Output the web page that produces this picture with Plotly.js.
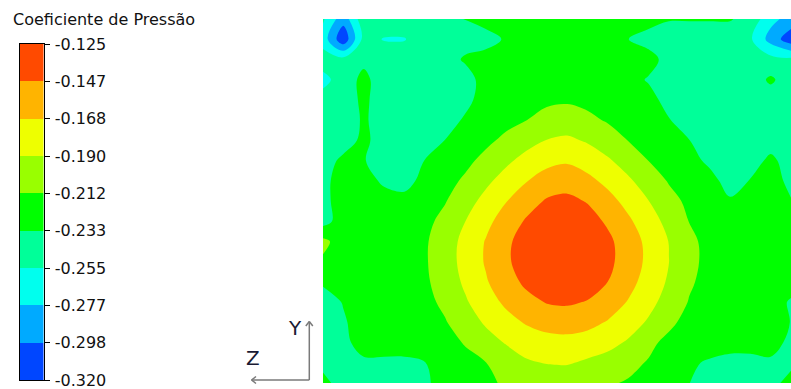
<!DOCTYPE html>
<html>
<head>
<meta charset="utf-8">
<script src="https://cdn.plot.ly/plotly-3.0.1.min.js"></script>
<style>
html,body{margin:0;padding:0;background:#ffffff;}
#chart{width:791px;height:389px;}
</style>
</head>
<body>
<div id="chart"></div>
<script>
// Grid coordinates (columns along Z, rows along Y, top row first)
var zCoords = [0,1,2,3,4,5,6,7,8,9,10,11,12,13,14,15,16,17,18,19,20,21,22,23];
var yCoords = [0,1,2,3,4,5,6,7,8,9,10,11,12,13,14,15,16,17,18];

// Pressure coefficient (rows top -> bottom)
var cpRow00 = [-0.252,-0.290,-0.240,-0.2442,-0.2442,-0.2442,-0.2442,-0.232,-0.2225,-0.2225,-0.2225,-0.2225,-0.2225,-0.2225,-0.2225,-0.2225,-0.2225,-0.232,-0.232,-0.232,-0.232,-0.240,-0.270,-0.285];
var cpRow01 = [-0.265,-0.315,-0.248,-0.256,-0.256,-0.2442,-0.2442,-0.2442,-0.2442,-0.230,-0.2225,-0.2225,-0.2225,-0.2225,-0.2225,-0.233,-0.2442,-0.2442,-0.2442,-0.2442,-0.2442,-0.252,-0.285,-0.312];
var cpRow02 = [-0.2442,-0.248,-0.238,-0.2442,-0.2442,-0.2442,-0.2442,-0.230,-0.2225,-0.2225,-0.2225,-0.2225,-0.2225,-0.2225,-0.2225,-0.2225,-0.2225,-0.2442,-0.2442,-0.2442,-0.2442,-0.2442,-0.248,-0.250];
var cpRow03 = [-0.262,-0.2442,-0.228,-0.2442,-0.2442,-0.2442,-0.2442,-0.2442,-0.2225,-0.2225,-0.2225,-0.2225,-0.2218,-0.2225,-0.2225,-0.2225,-0.236,-0.2442,-0.2442,-0.2442,-0.2442,-0.2442,-0.230,-0.2442];
var cpRow04 = [-0.246,-0.2442,-0.229,-0.2442,-0.2442,-0.2442,-0.2442,-0.240,-0.2225,-0.2225,-0.2190,-0.2156,-0.2143,-0.2168,-0.2207,-0.2225,-0.2225,-0.2442,-0.2442,-0.2442,-0.2442,-0.2442,-0.2442,-0.2442];
var cpRow05 = [-0.250,-0.248,-0.230,-0.2442,-0.2442,-0.2442,-0.2442,-0.230,-0.2220,-0.2166,-0.2119,-0.2045,-0.2017,-0.2072,-0.2137,-0.2187,-0.2225,-0.232,-0.2442,-0.2442,-0.2442,-0.2442,-0.2442,-0.2442];
var cpRow06 = [-0.2442,-0.2442,-0.228,-0.2442,-0.2442,-0.2442,-0.233,-0.2217,-0.2155,-0.2078,-0.1975,-0.1894,-0.1863,-0.1923,-0.2015,-0.2121,-0.2180,-0.2225,-0.233,-0.2442,-0.2442,-0.2442,-0.2442,-0.236];
var cpRow07 = [-0.2442,-0.228,-0.232,-0.2442,-0.2442,-0.233,-0.2225,-0.2159,-0.2068,-0.1942,-0.1831,-0.1742,-0.1709,-0.1774,-0.1874,-0.1992,-0.2120,-0.2186,-0.2225,-0.240,-0.2442,-0.2442,-0.228,-0.2442];
var cpRow08 = [-0.240,-0.2225,-0.2225,-0.238,-0.246,-0.2225,-0.2175,-0.2089,-0.1947,-0.1813,-0.1692,-0.1593,-0.1555,-0.1629,-0.1739,-0.1867,-0.2004,-0.2133,-0.2205,-0.2225,-0.246,-0.232,-0.2225,-0.240];
var cpRow09 = [-0.240,-0.2225,-0.2225,-0.2225,-0.2225,-0.2205,-0.2129,-0.1986,-0.1836,-0.1692,-0.1559,-0.1445,-0.1416,-0.1480,-0.1611,-0.1751,-0.1897,-0.2050,-0.2160,-0.2225,-0.230,-0.2225,-0.2225,-0.232];
var cpRow10 = [-0.242,-0.2225,-0.2225,-0.2225,-0.2225,-0.2168,-0.2060,-0.1900,-0.1741,-0.1586,-0.1443,-0.1356,-0.1329,-0.1385,-0.1497,-0.1648,-0.1805,-0.1965,-0.2122,-0.2201,-0.2225,-0.2225,-0.2225,-0.2225];
var cpRow11 = [-0.206,-0.2225,-0.2225,-0.2225,-0.2224,-0.2143,-0.2003,-0.1837,-0.1671,-0.1507,-0.1377,-0.1305,-0.1286,-0.1328,-0.1422,-0.1573,-0.1739,-0.1905,-0.2071,-0.2176,-0.2225,-0.2225,-0.2225,-0.2225];
var cpRow12 = [-0.215,-0.2225,-0.2225,-0.2225,-0.2221,-0.2140,-0.1996,-0.1830,-0.1664,-0.1499,-0.1373,-0.1305,-0.1289,-0.1326,-0.1417,-0.1566,-0.1731,-0.1898,-0.2064,-0.2173,-0.2225,-0.2225,-0.2225,-0.2225];
var cpRow13 = [-0.230,-0.2225,-0.2225,-0.2225,-0.2225,-0.2151,-0.2023,-0.1863,-0.1704,-0.1553,-0.1424,-0.1356,-0.1340,-0.1377,-0.1468,-0.1614,-0.1769,-0.1928,-0.2090,-0.2184,-0.2225,-0.2225,-0.2225,-0.2225];
var cpRow14 = [-0.2442,-0.232,-0.2225,-0.2225,-0.2225,-0.2172,-0.2074,-0.1923,-0.1777,-0.1643,-0.1529,-0.1455,-0.1439,-0.1477,-0.1572,-0.1696,-0.1835,-0.1984,-0.2128,-0.2204,-0.2225,-0.2225,-0.2225,-0.236];
var cpRow15 = [-0.2442,-0.236,-0.2225,-0.2225,-0.2225,-0.2203,-0.2131,-0.2004,-0.1873,-0.1756,-0.1663,-0.1604,-0.1589,-0.1623,-0.1698,-0.1802,-0.1925,-0.2061,-0.2200,-0.2225,-0.2225,-0.2225,-0.2225,-0.234];
var cpRow16 = [-0.2442,-0.240,-0.2225,-0.2225,-0.2225,-0.2225,-0.2174,-0.2104,-0.1986,-0.1885,-0.1807,-0.1760,-0.1748,-0.1774,-0.1835,-0.1924,-0.2060,-0.2180,-0.2225,-0.2225,-0.2225,-0.2225,-0.2225,-0.240];
var cpRow17 = [-0.240,-0.238,-0.238,-0.238,-0.238,-0.234,-0.2223,-0.2165,-0.2120,-0.2022,-0.1925,-0.1890,-0.1880,-0.1935,-0.1980,-0.2055,-0.2134,-0.2188,-0.230,-0.236,-0.242,-0.242,-0.238,-0.238];
var cpRow18 = [-0.226,-0.2442,-0.2442,-0.2442,-0.2442,-0.238,-0.2225,-0.2220,-0.2140,-0.2100,-0.2085,-0.2065,-0.2064,-0.2075,-0.2095,-0.2135,-0.2192,-0.2225,-0.233,-0.2442,-0.2442,-0.2442,-0.240,-0.226];

// Contour levels and colorbar labels (bottom -> top)
var levels = [-0.3200,-0.2983,-0.2767,-0.2550,-0.2333,-0.2117,-0.1900,-0.1683,-0.1467,-0.1250];
var tickLabels = ['-0.320','-0.298','-0.277','-0.255','-0.233','-0.212','-0.190','-0.168','-0.147','-0.125'];
var bandColors = ['#0046FF','#00AAFF','#00FFEE','#00FF99','#00FF00','#99FF00','#EEFF00','#FFB400','#FF4A00'];
var titleText = 'Coeficiente de Pressão';

var cp = [cpRow00,cpRow01,cpRow02,cpRow03,cpRow04,cpRow05,cpRow06,cpRow07,cpRow08,cpRow09,
          cpRow10,cpRow11,cpRow12,cpRow13,cpRow14,cpRow15,cpRow16,cpRow17,cpRow18];

var W = 791, H = 389;
function fx(p){ return p / W; }
function fy(p){ return 1 - p / H; }

// step colourscale for contour fills (fill colour sampled at (i+1)/10 for band i)
var nb = bandColors.length;
var contourScale = [];
for (var i = 0; i < nb; i++) {
  var lo = (i === 0) ? 0 : (i + 0.5) / (nb + 1);
  var hi = (i === nb - 1) ? 1 : (i + 1.5) / (nb + 1);
  contourScale.push([lo, bandColors[i]]);
  contourScale.push([hi, bandColors[i]]);
}
// step colourscale for the legend bar
var barScale = [];
var barZ = [];
for (var j = 0; j < nb; j++) {
  barScale.push([j / nb, bandColors[j]]);
  barScale.push([(j + 1) / nb, bandColors[j]]);
  barZ.push([j]);
}

var step = (levels[levels.length - 1] - levels[0]) / (levels.length - 1);

var traces = [
  {
    type: 'contour',
    x: zCoords, y: yCoords, z: cp,
    autocontour: false,
    contours: { start: levels[0], end: levels[levels.length - 1] + step / 40, size: step, coloring: 'fill', showlines: false },
    line: { width: 0, smoothing: 1 },
    colorscale: contourScale,
    showscale: false,
    hoverinfo: 'skip',
    xaxis: 'x', yaxis: 'y'
  },
  {
    type: 'heatmap',
    x: [0, 1], y: levels, z: barZ,
    zmin: -0.5, zmax: nb - 0.5,
    colorscale: barScale,
    showscale: false,
    hoverinfo: 'skip',
    xaxis: 'x2', yaxis: 'y2'
  }
];

var arrowColor = '#7a7a7a';
function seg(x0, y0, x1, y1) {
  return { type: 'line', xref: 'paper', yref: 'paper', x0: fx(x0), y0: fy(y0), x1: fx(x1), y1: fy(y1),
           line: { color: arrowColor, width: 1.5 } };
}

var layout = {
  width: W, height: H,
  margin: { l: 0, r: 0, t: 0, b: 0, pad: 0 },
  paper_bgcolor: '#ffffff', plot_bgcolor: '#ffffff',
  showlegend: false,
  font: { family: 'DejaVu Sans', color: '#111111' },
  xaxis: { domain: [fx(323), 1], range: [0, 23], visible: false, fixedrange: true },
  yaxis: { domain: [fy(383), fy(19)], range: [18, 0], visible: false, fixedrange: true },
  xaxis2: { domain: [fx(20), fx(43.5)], range: [0, 1], anchor: 'y2', showline: true, mirror: true,
            linecolor: '#000000', linewidth: 1, showticklabels: false, ticks: '', showgrid: false, zeroline: false },
  yaxis2: { domain: [fy(380), fy(44)], range: [levels[0], levels[levels.length - 1]], anchor: 'x2', side: 'right',
            showline: true, mirror: true, linecolor: '#000000', linewidth: 1,
            ticks: 'outside', ticklen: 5, tickwidth: 1, tickcolor: '#000000',
            tickmode: 'array', tickvals: levels, ticktext: tickLabels,
            tickfont: { family: 'DejaVu Sans', size: 16, color: '#111111' },
            ticklabelstandoff: 2, ticklabeloverflow: 'allow',
            showgrid: false, zeroline: false },
  annotations: [
    { text: titleText, xref: 'paper', yref: 'paper', x: fx(11), y: fy(19), xanchor: 'left', yanchor: 'middle',
      showarrow: false, font: { family: 'DejaVu Sans', size: 16, color: '#111111' } },
    { text: 'Y', xref: 'paper', yref: 'paper', x: fx(295), y: fy(327.5), xanchor: 'center', yanchor: 'middle',
      showarrow: false, font: { family: 'DejaVu Sans', size: 20, color: '#1a1a33' } },
    { text: 'Z', xref: 'paper', yref: 'paper', x: fx(252.5), y: fy(357.5), xanchor: 'center', yanchor: 'middle',
      showarrow: false, font: { family: 'DejaVu Sans', size: 20, color: '#1a1a33' } }
  ],
  shapes: [
    seg(309.3, 321.5, 309.3, 380),
    seg(251.5, 380, 309.3, 380),
    seg(305.8, 326, 309.3, 321.5), seg(312.8, 326, 309.3, 321.5),
    seg(256, 376.5, 251.5, 380), seg(256, 383.5, 251.5, 380)
  ]
};

Plotly.newPlot('chart', traces, layout, { displayModeBar: false, staticPlot: true });
</script>
</body>
</html>
